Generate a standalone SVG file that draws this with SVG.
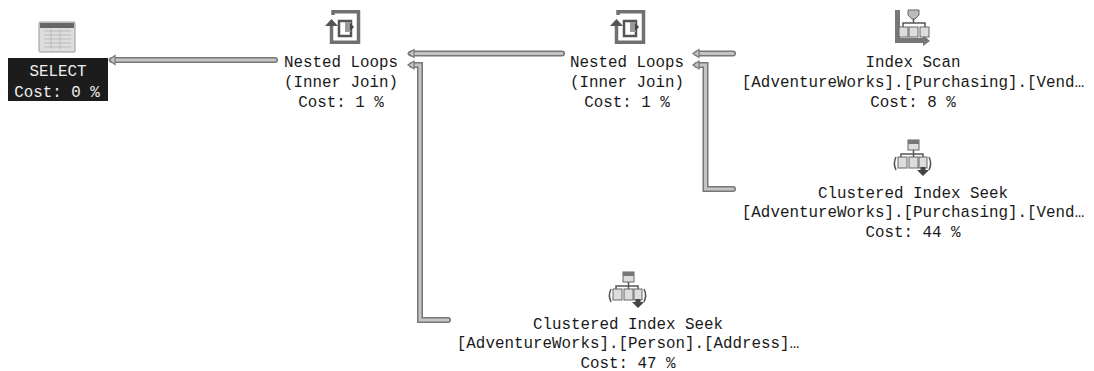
<svg xmlns="http://www.w3.org/2000/svg" width="1094" height="371" viewBox="0 0 1094 371">
<style>
text{font-family:"Liberation Mono","Courier New",monospace;font-size:15.85px;fill:#1a1a1a;text-anchor:middle}
.w{fill:#eee}
.co{fill:none;stroke:#777;stroke-width:6;stroke-linejoin:miter;stroke-linecap:round}
.ci{fill:none;stroke:#c4c4c4;stroke-width:3;stroke-linejoin:miter;stroke-linecap:round}
.ah{fill:#c4c4c4;stroke:#777;stroke-width:1.2}
.d{fill:#555}
.box{fill:#ddd;stroke:#666;stroke-width:1}
.ln{fill:none;stroke:#555;stroke-width:1.5}
.lp{fill:none;stroke:#707070;stroke-width:3.500}
</style>
<defs>
<symbol id="loop" viewBox="0 0 36 36" width="36" height="36" overflow="visible">
<path class="lp" d="M8 5V1.800H33.500V32.200H6.500V14"/>
<path class="d" d="M6.500 9L0 16H13Z"/>
<rect x="14" y="11" width="12" height="15" fill="#fff" stroke="#555" stroke-width="2.500"/>
<path d="M20 12h6v10h-6z" fill="#999"/>
<path d="M25 13l4 4-4 4z" fill="#444"/>
</symbol>
<symbol id="seek" viewBox="0 0 40 40" width="40" height="40" overflow="visible">
<rect class="box" x="15" y="1" width="11" height="10"/>
<rect x="15" y="1" width="11" height="4" fill="#777"/>
<path class="ln" d="M20.500 11V15M8 19V15H30V20"/>
<path class="ln" d="M20.500 15V19"/>
<rect class="box" x="5" y="18" width="9" height="11"/>
<rect class="box" x="16" y="18" width="9" height="11"/>
<rect class="box" x="26" y="18" width="8" height="11"/>
<path class="ln" d="M3 18C1 22 1 27 3 31M36 18C38 22 38 27 36 31"/>
<path d="M27.500 28H32.500V31H36L30 37L24 31H27.500Z" fill="#444"/>
</symbol>
<symbol id="scan" viewBox="0 0 36 36" width="36" height="36" overflow="visible">
<path d="M0 0H5V28H28V25L35 31L28 36V33H0Z" fill="#777"/>
<path d="M13 0H24V5L20 9H17L13 5Z" fill="#bbb" stroke="#666"/>
<path class="ln" d="M18.500 9V13M8 17V13H30V17"/>
<rect class="box" x="4" y="17" width="9" height="10"/>
<rect class="box" x="14" y="17" width="9" height="10"/>
<rect class="box" x="25" y="17" width="9" height="10"/>
</symbol>
</defs>
<g id="connectors">
<path class="co" d="M275 60H112"/><path class="ci" d="M275 60H112"/><path class="ah" d="M109 60L115 55.500V64.500Z"/>
<path class="co" d="M562 53.500H411"/><path class="ci" d="M562 53.500H411"/><path class="ah" d="M408 53.500L414 49.500V57.500Z"/>
<path class="co" d="M448 320H420V65H412"/><path class="ci" d="M448 320H420V65H412"/><path class="ah" d="M408 65L414 61V69Z"/>
<path class="co" d="M733 53.500H697"/><path class="ci" d="M733 53.500H697"/><path class="ah" d="M693 53.500L699 49.500V57.500Z"/>
<path class="co" d="M733 189H705.500V65H697"/><path class="ci" d="M733 189H705.500V65H697"/><path class="ah" d="M693 65L699 61V69Z"/>
</g>
<g id="select">
<rect x="39" y="22" width="36" height="30" rx="1" fill="#ddd" stroke="#999"/>
<rect x="40" y="23" width="34" height="5" fill="#666"/>
<path d="M44 31H71M44 35H71M44 39H71M44 43H71M44 47H71M51 29V49M60 29V49" stroke="#bbb" fill="none"/>
<rect x="8" y="58" width="100" height="43" fill="#1c1c1c"/>
<text class="w" x="58" y="76">SELECT</text>
<text class="w" x="57" y="97">Cost: 0 %</text>
</g>
<g id="nested-loops-1">
<use href="#loop" x="325" y="10"/>
<text x="341" y="67">Nested Loops</text>
<text x="341" y="87">(Inner Join)</text>
<text x="341" y="107">Cost: 1 %</text>
</g>
<g id="nested-loops-2">
<use href="#loop" x="610" y="10"/>
<text x="627" y="67">Nested Loops</text>
<text x="627" y="87">(Inner Join)</text>
<text x="627" y="107">Cost: 1 %</text>
</g>
<g id="index-scan">
<use href="#scan" x="895" y="10"/>
<text x="913" y="67">Index Scan</text>
<text x="913" y="87">[AdventureWorks].[Purchasing].[Vend…</text>
<text x="913" y="107">Cost: 8 %</text>
</g>
<g id="seek-vendor">
<use href="#seek" x="893" y="139"/>
<text x="913" y="198">Clustered Index Seek</text>
<text x="913" y="217">[AdventureWorks].[Purchasing].[Vend…</text>
<text x="913" y="237">Cost: 44 %</text>
</g>
<g id="seek-address">
<use href="#seek" x="608" y="271"/>
<text x="628" y="329">Clustered Index Seek</text>
<text x="628" y="348">[AdventureWorks].[Person].[Address]…</text>
<text x="628" y="368">Cost: 47 %</text>
</g>
</svg>
